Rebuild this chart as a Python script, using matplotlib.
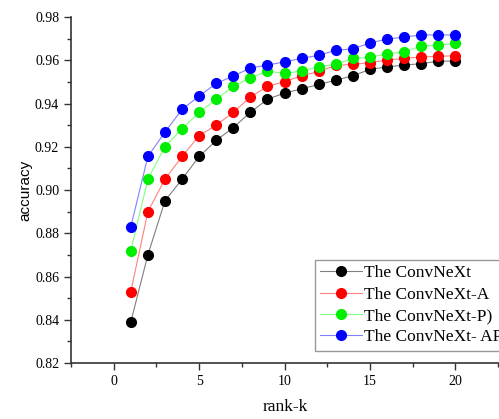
import matplotlib.pyplot as plt
import numpy as np

rank_k = list(range(1, 21))

convnext = [0.839, 0.870, 0.895, 0.905, 0.9155, 0.9229, 0.9289, 0.9359, 0.942, 0.9448,
            0.9468, 0.9488, 0.9508, 0.9528, 0.9558, 0.9569, 0.9578, 0.9584, 0.9596, 0.9596]
convnext_a = [0.853, 0.890, 0.905, 0.9155, 0.9251, 0.930, 0.9359, 0.943, 0.9479, 0.9501,
              0.9528, 0.9548, 0.9576, 0.9581, 0.9589, 0.9601, 0.9609, 0.9615, 0.9618, 0.9621]
convnext_p = [0.872, 0.905, 0.9201, 0.9283, 0.9359, 0.9419, 0.9479, 0.9519, 0.955, 0.9539,
              0.955, 0.957, 0.9581, 0.9609, 0.9613, 0.963, 0.9638, 0.9666, 0.9669, 0.9678]
convnext_ap = [0.883, 0.9155, 0.9268, 0.9373, 0.9434, 0.9493, 0.9527, 0.9564, 0.9578, 0.9592,
               0.9609, 0.9623, 0.9646, 0.9653, 0.968, 0.9698, 0.9707, 0.9717, 0.9717, 0.9717]

labels = ['The ConvNeXt', 'The ConvNeXt-A', 'The ConvNeXt-P)', 'The ConvNeXt- AP']

W, H = 499, 419
fig = plt.figure(figsize=(W / 100, H / 100), dpi=100)
ax = fig.add_axes([71 / W, (H - 363) / H, 1 - 71 / W, (363 - 17) / H])

series = [
    (convnext, 'black', '#7f7f7f'),
    (convnext_a, 'red', '#ff8080'),
    (convnext_p, '#00ee00', '#80ff80'),
    (convnext_ap, 'blue', '#8080ff'),
]
for (vals, mcol, lcol), lab in zip(series, labels):
    ax.plot(rank_k, vals, color=lcol, lw=0.8, marker='o', markersize=7.0,
            markerfacecolor=mcol, markeredgecolor=mcol, label=lab)

ax.set_xlim(-2.45, 22.55)
ax.set_ylim(0.82, 0.98)
ax.set_xticks([0, 5, 10, 15, 20])
ax.set_xticks(np.arange(-2.5, 23, 2.5), minor=True)
ax.set_yticks(np.arange(0.82, 0.981, 0.02))
ax.set_yticks(np.arange(0.82, 0.981, 0.01), minor=True)
ax.set_yticklabels(['%.2f' % v for v in np.arange(0.82, 0.981, 0.02)])

for s in ['top', 'right']:
    ax.spines[s].set_visible(False)
for s in ['left', 'bottom']:
    ax.spines[s].set_linewidth(1.2)
    ax.spines[s].set_color('#333333')

ax.tick_params(which='major', direction='out', length=5, width=1.0, colors='#333333',
               labelsize=10, labelcolor='black')
ax.tick_params(which='minor', direction='out', length=3, width=1.0, colors='#333333')
for t in ax.get_xticklabels() + ax.get_yticklabels():
    t.set_fontfamily('Liberation Serif')

ax.set_xlabel('rank-k', fontfamily='Liberation Serif', fontsize=12.5, labelpad=8)
ax.set_ylabel('accuracy', fontfamily='Liberation Sans', fontsize=11, labelpad=2)

leg = ax.legend(loc='upper left', bbox_to_anchor=(315 / W, 1 - 260 / H),
                bbox_transform=fig.transFigure, prop={'family': 'Liberation Serif', 'size': 12.5},
                fancybox=False, edgecolor='#999999', framealpha=1, handlelength=2.4,
                handletextpad=0.1, labelspacing=0.3, borderpad=0.3, borderaxespad=0)
leg.get_frame().set_linewidth(1.0)

fig.savefig('out.png', dpi=100)
